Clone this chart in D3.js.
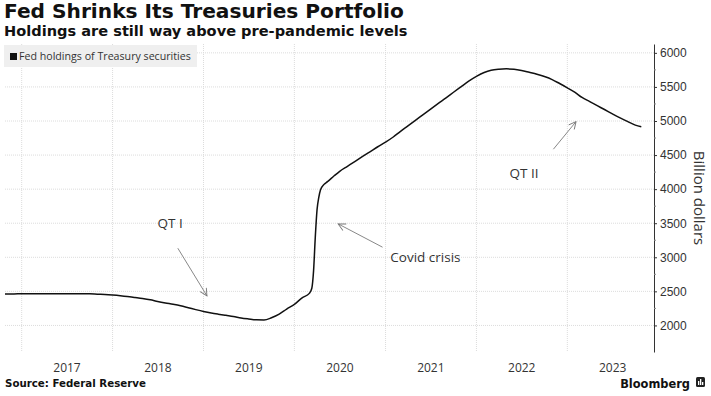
<!DOCTYPE html>
<html>
<head>
<meta charset="utf-8">
<script src="https://cdn.jsdelivr.net/npm/d3@7"></script>
<style>
  body { margin: 0; background: #fff; }
  svg { display: block; font-family: "Open Sans", "DejaVu Sans", sans-serif; }
  .title { font-family: "DejaVu Sans", Verdana, sans-serif; font-weight: bold; fill: #111; }
  .grid line { stroke: #dcdcdc; stroke-dasharray: 1,1; }
  .axis text { fill: #333; font-size: 12px; }
  .note { fill: #333; font-size: 13.5px; }
</style>
</head>
<body>
<svg width="711" height="396"></svg>
<script>
// Fed holdings of Treasury securities, billion dollars
const dates = [
  "2016-10-26", "2016-12-01",
  "2017-01-01", "2017-02-01", "2017-03-01", "2017-04-01", "2017-05-01", "2017-06-01",
  "2017-07-01", "2017-08-01", "2017-09-01", "2017-10-01", "2017-11-01", "2017-12-01",
  "2018-01-01", "2018-02-01", "2018-03-01", "2018-04-01", "2018-05-01", "2018-06-01",
  "2018-07-01", "2018-08-01", "2018-09-01", "2018-10-01", "2018-11-01", "2018-12-01",
  "2019-01-01", "2019-02-01", "2019-03-01", "2019-04-01", "2019-05-01", "2019-06-01",
  "2019-07-01", "2019-08-01", "2019-09-01", "2019-10-01", "2019-11-01", "2019-12-01",
  "2020-01-01", "2020-02-01", "2020-03-01", "2020-03-11", "2020-03-18", "2020-03-25",
  "2020-04-01", "2020-04-08", "2020-04-15", "2020-04-29", "2020-05-13", "2020-06-10",
  "2020-07-01", "2020-08-01", "2020-09-01", "2020-10-01", "2020-11-01", "2020-12-01",
  "2021-01-01", "2021-02-01", "2021-03-01", "2021-04-01", "2021-05-01", "2021-06-01",
  "2021-07-01", "2021-08-01", "2021-09-01", "2021-10-01", "2021-11-01", "2021-12-01",
  "2022-01-01", "2022-02-01", "2022-03-01", "2022-04-01", "2022-05-01", "2022-06-01",
  "2022-07-01", "2022-08-01", "2022-09-01", "2022-10-01", "2022-11-01", "2022-12-01",
  "2023-01-01", "2023-02-01", "2023-03-01", "2023-04-01", "2023-05-01", "2023-06-01",
  "2023-07-01", "2023-08-01", "2023-09-01", "2023-10-01", "2023-10-25"
];
const holdings = [
  2463, 2463,
  2464, 2464, 2464, 2465, 2465, 2465,
  2465, 2465, 2465, 2465, 2459, 2454,
  2446, 2436, 2425, 2410, 2395, 2376,
  2352, 2330, 2310, 2288, 2260, 2232,
  2205, 2182, 2165, 2148, 2132, 2110,
  2095, 2082, 2080, 2112, 2165, 2240,
  2310, 2405, 2470, 2545, 2800, 3300,
  3700, 3880, 3990, 4070, 4110, 4200,
  4262, 4335, 4408, 4480, 4552, 4622,
  4690, 4765, 4845, 4928, 5010, 5093,
  5175, 5258, 5340, 5422, 5505, 5585,
  5655, 5712, 5745, 5760, 5765, 5760,
  5742, 5714, 5685, 5652, 5608, 5550,
  5487, 5420, 5345, 5285, 5225, 5165,
  5105, 5045, 4990, 4940, 4916
];

const yearLabels = ["2017", "2018", "2019", "2020", "2021", "2022", "2023"];
const yTicks = [2000, 2500, 3000, 3500, 4000, 4500, 5000, 5500, 6000];
const yMinorTicks = [2250, 2750, 3250, 3750, 4250, 4750, 5250, 5750];

// annotations: label position, arrow start and arrow tip in data space
const noteText = ["QT I", "Covid crisis", "QT II"];
const noteAt = [["2018-08-20", 3504], ["2021-01-20", 3000], ["2022-07-11", 4234]];
const noteAnchor = ["middle", "start", "middle"];
const arrowFrom = [["2018-09-20", 3133], ["2020-12-20", 3148], ["2022-11-06", 4586]];
const arrowTo = [["2019-01-15", 2433], ["2020-06-25", 3490], ["2023-02-05", 4991]];

const parse = d3.timeParse("%Y-%m-%d");
const data = dates.map((d, i) => ({ date: parse(d), value: holdings[i] }));

const svg = d3.select("svg");
const margin = { left: 5, right: 57, top: 44, bottom: 44 };
const W = 711, H = 396;

const x = d3.scaleTime()
  .domain([parse("2016-10-26"), parse("2023-12-15")])
  .range([margin.left, W - margin.right]);
const y = d3.scaleLinear()
  .domain([1610, 6130])
  .range([H - margin.bottom, margin.top]);

// size a text so it spans the given width
function fit(sel, width) {
  const size = parseFloat(sel.style("font-size"));
  const len = sel.node().getComputedTextLength();
  sel.style("font-size", (size * width / len) + "px");
}

// Titles
svg.append("text").attr("class", "title")
  .attr("x", 4).attr("y", 18).style("font-size", "18px")
  .text("Fed Shrinks Its Treasuries Portfolio")
  .call(fit, 400);
svg.append("text").attr("class", "title")
  .attr("x", 4).attr("y", 36).style("font-size", "14px")
  .text("Holdings are still way above pre-pandemic levels")
  .call(fit, 404);

// Grid
const grid = svg.append("g").attr("class", "grid");
grid.selectAll(".h").data(yTicks).enter().append("line")
  .attr("x1", margin.left).attr("x2", W - margin.right)
  .attr("y1", d => y(d)).attr("y2", d => y(d));
grid.selectAll(".v").data(yearLabels).enter().append("line")
  .attr("x1", d => x(parse(d + "-01-01"))).attr("x2", d => x(parse(d + "-01-01")))
  .attr("y1", margin.top).attr("y2", H - margin.bottom);

// Legend
const legend = svg.append("g").attr("transform", "translate(4,45)");
legend.append("rect").attr("width", 193).attr("height", 22).attr("fill", "#efefef");
legend.append("rect").attr("x", 6).attr("y", 8).attr("width", 7).attr("height", 7).attr("fill", "#111");
legend.append("text").attr("x", 15).attr("y", 15).attr("fill", "#333")
  .style("font-size", "10px").text("Fed holdings of Treasury securities")
  .call(fit, 172);

// Right axis
const yAxis = svg.append("g").attr("class", "axis")
  .attr("transform", `translate(${W - margin.right},0)`)
  .call(d3.axisRight(y).tickValues(yTicks).tickFormat(d3.format("d"))
    .tickSize(3).tickPadding(3).tickSizeOuter(0));
yAxis.select(".domain").attr("stroke", "#333");
yAxis.selectAll(".tick line").attr("stroke", "#333");
yAxis.selectAll(".minor").data(yMinorTicks).enter().append("line")
  .attr("x1", 0).attr("x2", 2).attr("y1", d => y(d)).attr("y2", d => y(d))
  .attr("stroke", "#888");
svg.append("text")
  .attr("transform", `translate(${W - 17},${y(3870)}) rotate(90)`)
  .attr("text-anchor", "middle").attr("fill", "#333")
  .style("font-size", "15px").text("Billion dollars");

// Year labels centred in each year
svg.append("g").attr("class", "axis").selectAll("text").data(yearLabels).enter().append("text")
  .attr("x", d => x(parse(d + "-07-02")))
  .attr("y", 372).attr("text-anchor", "middle").text(d => d);

// Line
svg.append("path").datum(data)
  .attr("fill", "none").attr("stroke", "#111").attr("stroke-width", 1.5)
  .attr("stroke-linejoin", "round")
  .attr("d", d3.line().curve(d3.curveMonotoneX).x(d => x(d.date)).y(d => y(d.value)));

// Annotations
svg.append("defs").append("marker")
  .attr("id", "arr").attr("viewBox", "0 0 10 10").attr("refX", 9).attr("refY", 5)
  .attr("markerWidth", 9).attr("markerHeight", 9).attr("orient", "auto")
  .append("path").attr("d", "M1,1 L9,5 L1,9").attr("fill", "none")
  .attr("stroke", "#777").attr("stroke-width", 1);
noteText.forEach((t, i) => {
  svg.append("line")
    .attr("x1", x(parse(arrowFrom[i][0]))).attr("y1", y(arrowFrom[i][1]))
    .attr("x2", x(parse(arrowTo[i][0]))).attr("y2", y(arrowTo[i][1]))
    .attr("stroke", "#888").attr("stroke-width", 1).attr("marker-end", "url(#arr)");
  svg.append("text").attr("class", "note")
    .attr("x", x(parse(noteAt[i][0]))).attr("y", y(noteAt[i][1]))
    .attr("dy", "0.35em").attr("text-anchor", noteAnchor[i]).text(t);
});

// Footer
svg.append("text").attr("class", "title").attr("x", 5).attr("y", 387)
  .style("font-size", "11px").text("Source: Federal Reserve")
  .call(fit, 141);
svg.append("text").attr("class", "title").attr("x", 690).attr("y", 388)
  .attr("text-anchor", "end").style("font-size", "13px").text("Bloomberg")
  .call(fit, 70);
const logo = svg.append("g").attr("transform", "translate(696,377)");
logo.append("rect").attr("width", 9).attr("height", 10).attr("rx", 1.5).attr("fill", "#222");
[[2, 4, 1.3, 4], [4, 2, 1.3, 6], [6, 5, 1.3, 3]].forEach(b =>
  logo.append("rect").attr("x", b[0]).attr("y", b[1]).attr("width", b[2]).attr("height", b[3]).attr("fill", "#fff"));
</script>
</body>
</html>
